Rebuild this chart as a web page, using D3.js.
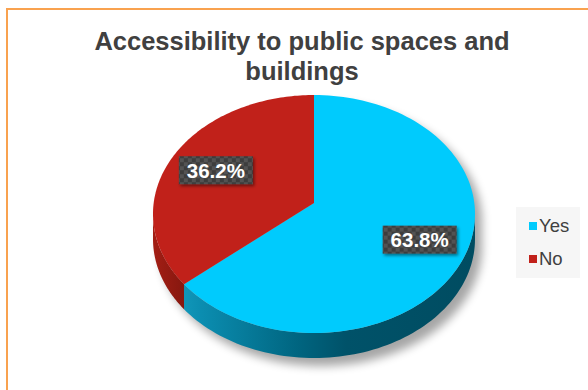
<!DOCTYPE html>
<html>
<head>
<meta charset="utf-8">
<script src="https://cdn.jsdelivr.net/npm/d3@7"></script>
<style>
  html, body { margin: 0; padding: 0; background: #fff; }
  svg { display: block; }
</style>
</head>
<body>
<svg id="chart" width="588" height="390"></svg>
<script>
// Chart data
const categories = ["Yes", "No"];
const values = [63.8, 36.2];
const valueLabels = ["63.8%", "36.2%"];
const colors = ["#00cbfd", "#c1211a"];
const titleLines = ["Accessibility to public spaces and", "buildings"];

const svg = d3.select("#chart");
const W = 588, H = 390;

// Pie geometry (top face ellipse, tilt and extrusion depth)
const cx = 314, cy = 214, rx = 161, ry = 119, depth = 25;
const apexY = 203;                       // where the pie centre lands in perspective
const beta = (apexY - cy) / ry;          // perspective shift of the centre
const gamma = Math.sqrt(1 - beta * beta);

// Map a point of the unit disc (angle a clockwise from 12 o'clock, radius r) to screen
function project(a, r) {
  const u = r * Math.sin(a), v = -r * Math.cos(a);
  const w = 1 + beta * v;
  return [cx + rx * (u * gamma / w), cy + ry * ((v + beta) / w)];
}
// screen-ellipse parameter of a rim angle
function screenParam(a) {
  const [x, y] = project(a, 1);
  let t = Math.atan2((x - cx) / rx, -(y - cy) / ry);
  if (t < 0) t += 2 * Math.PI;
  return t;
}
function ellipsePt(t, dy) {
  return [cx + rx * Math.sin(t), cy - ry * Math.cos(t) + (dy || 0)];
}

const pie = d3.pie().sort(null).value(d => d)(values);

const defs = svg.append("defs");
defs.append("filter").attr("id", "shadowBlur")
  .attr("x", "-20%").attr("y", "-20%").attr("width", "140%").attr("height", "140%")
  .append("feGaussianBlur").attr("stdDeviation", 5);
defs.append("filter").attr("id", "boxShadow")
  .attr("x", "-20%").attr("y", "-30%").attr("width", "140%").attr("height", "160%")
  .append("feDropShadow").attr("dx", 1.5).attr("dy", 2).attr("stdDeviation", 1.5)
  .attr("flood-color", "#000").attr("flood-opacity", 0.45);

const sideGrad = defs.append("linearGradient").attr("id", "sideYes")
  .attr("gradientUnits", "userSpaceOnUse")
  .attr("x1", cx - rx).attr("y1", 0).attr("x2", cx + rx).attr("y2", 0);
[[0, "#1aa6c8"], [0.15, "#0b8db0"], [0.45, "#006580"], [0.6, "#005269"], [1, "#004c61"]]
  .forEach(([o, c]) => sideGrad.append("stop").attr("offset", o).attr("stop-color", c));
const sideRed = defs.append("linearGradient").attr("id", "sideNo")
  .attr("gradientUnits", "userSpaceOnUse")
  .attr("x1", cx - rx).attr("y1", 0).attr("x2", cx - rx + 40).attr("y2", 0);
[[0, "#a31e14"], [1, "#7e160e"]]
  .forEach(([o, c]) => sideRed.append("stop").attr("offset", o).attr("stop-color", c));

const checker = defs.append("pattern").attr("id", "checker")
  .attr("patternUnits", "userSpaceOnUse").attr("width", 8).attr("height", 8);
checker.append("rect").attr("width", 8).attr("height", 8).attr("fill", "#3d3d3d");
checker.append("rect").attr("width", 4).attr("height", 4).attr("fill", "#525252");
checker.append("rect").attr("x", 4).attr("y", 4).attr("width", 4).attr("height", 4).attr("fill", "#525252");

// Frame
svg.append("rect").attr("x", 7).attr("y", 9).attr("width", W).attr("height", H)
  .attr("fill", "#fff").attr("stroke", "#f9a24f").attr("stroke-width", 2);

// Title
const title = svg.append("text").attr("text-anchor", "middle")
  .attr("font-family", "Liberation Sans, Arial, sans-serif")
  .attr("font-weight", "bold").attr("font-size", 25.5).attr("fill", "#404040");
titleLines.forEach((t, i) => title.append("tspan").attr("x", 302).attr("y", 50 + i * 30).text(t));

// Soft drop shadow under the pie
const silhouette = () => {
  const pts = [];
  for (let i = 0; i <= 180; i++) {
    const t = Math.PI / 2 - (i / 180) * Math.PI;   // back half, right to left over the top
    pts.push(ellipsePt(t, 0));
  }
  for (let i = 0; i <= 180; i++) {
    const t = 3 * Math.PI / 2 - (i / 180) * Math.PI; // front half, left to right along the bottom
    pts.push(ellipsePt(t, depth));
  }
  return "M" + pts.map(p => p.join(",")).join("L") + "Z";
};
svg.append("path").attr("d", silhouette())
  .attr("transform", "translate(7,8)")
  .attr("fill", "#000").attr("opacity", 0.35)
  .attr("filter", "url(#shadowBlur)");

// Extruded sides (front half only)
const front0 = Math.PI / 2, front1 = 3 * Math.PI / 2;
pie.forEach((d, i) => {
  let t0 = screenParam(d.startAngle);
  let t1 = d.endAngle >= 2 * Math.PI - 1e-9 ? 2 * Math.PI : screenParam(d.endAngle);
  if (d.startAngle === 0) t0 = 0;
  const a = Math.max(t0, front0), b = Math.min(t1, front1);
  if (b <= a) return;
  const n = 80, top = [], bot = [];
  for (let k = 0; k <= n; k++) {
    const t = a + (b - a) * k / n;
    top.push(ellipsePt(t, 0));
    bot.push(ellipsePt(t, depth));
  }
  const pts = top.concat(bot.reverse());
  svg.append("path").attr("d", "M" + pts.map(p => p.join(",")).join("L") + "Z")
    .attr("fill", i === 0 ? "url(#sideYes)" : "url(#sideNo)");
});

// Top faces
const apex = project(0, 0);
pie.forEach((d, i) => {
  const n = 120, pts = [apex];
  for (let k = 0; k <= n; k++) {
    const a = d.startAngle + (d.endAngle - d.startAngle) * k / n;
    pts.push(project(a, 1));
  }
  svg.append("path").attr("d", "M" + pts.map(p => p.join(",")).join("L") + "Z")
    .attr("fill", colors[i]);
});

// Value labels
pie.forEach((d, i) => {
  const mid = (d.startAngle + d.endAngle) / 2;
  const [x, y] = project(mid, 0.7);
  const bw = 74, bh = 28;
  const g = svg.append("g").attr("transform", `translate(${x + 1},${y + 1})`);
  g.append("rect").attr("x", -bw / 2).attr("y", -bh / 2).attr("width", bw).attr("height", bh)
    .attr("fill", "url(#checker)").attr("filter", "url(#boxShadow)");
  g.append("text").attr("text-anchor", "middle").attr("y", 7.5)
    .attr("font-family", "Liberation Sans, Arial, sans-serif")
    .attr("font-weight", "bold").attr("font-size", 20.5).attr("fill", "#fff")
    .text(valueLabels[i]);
});

// Legend
const legend = svg.append("g");
legend.append("rect").attr("x", 516).attr("y", 207).attr("width", 64).attr("height", 71)
  .attr("fill", "#f6f6f6");
categories.forEach((c, i) => {
  const y = 222 + i * 33;
  legend.append("rect").attr("x", 529).attr("y", y).attr("width", 8).attr("height", 8)
    .attr("fill", colors[i]);
  legend.append("text").attr("x", 539).attr("y", y + 9.5)
    .attr("font-family", "Liberation Sans, Arial, sans-serif")
    .attr("font-size", 18.5).attr("fill", "#404040").text(c);
});
</script>
</body>
</html>
